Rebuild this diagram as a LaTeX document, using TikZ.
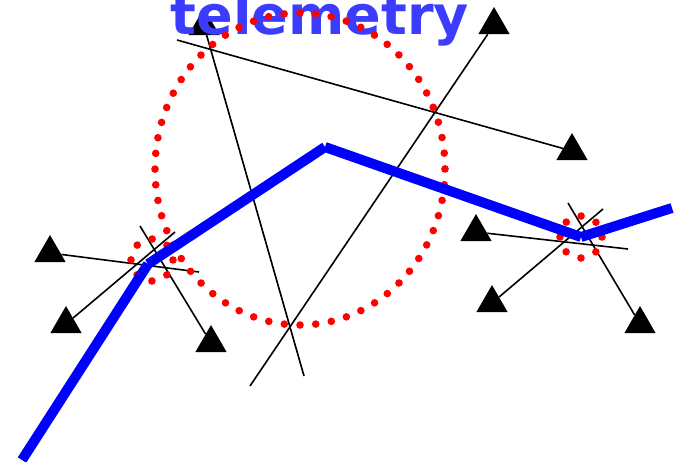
\documentclass[tikz,border=0pt]{standalone}
\usepackage{fontspec}
\newfontfamily\titlefont{DejaVu Sans}
\usepackage{xcolor}
\usetikzlibrary{shapes.geometric}
\definecolor{tblue}{RGB}{0,0,255}
\definecolor{tlabel}{RGB}{60,60,255}
\definecolor{tred}{RGB}{255,0,0}
\tikzset{
  ant/.style={regular polygon,regular polygon sides=3,fill=black,inner sep=0pt,minimum size=36pt},
  bearing/.style={black,line width=1.6pt},
  track/.style={tblue,line width=10pt},
  fixdots/.style={tred,line width=7.6pt,line cap=round,dash pattern=on 0pt off 16.49pt},
  areadots/.style={tred,line width=7.6pt,line cap=round,dash pattern=on 0pt off 15.765pt},
  title/.style={tlabel,anchor=base,inner sep=0pt,font=\titlefont\bfseries\fontsize{54}{54}\selectfont}
}

\begin{document}
\begin{tikzpicture}[x=1pt,y=-1pt]
  \useasboundingbox (0,0) rectangle (677,461);
  % antennas
  \node[ant] (a1) at (204,26) {};
  \node[ant] (a2) at (494,25) {};
  \node[ant] (a3) at (572,151) {};
  \node[ant] (a4) at (50,253) {};
  \node[ant] (a5) at (66,324) {};
  \node[ant] (a6) at (211,343) {};
  \node[ant] (a7) at (476,232) {};
  \node[ant] (a8) at (492,303) {};
  \node[ant] (a9) at (640,324) {};
  % free ends of the bearings
  \coordinate (e1) at (304,376);
  \coordinate (e2) at (250,386);
  \coordinate (e3) at (177,40);
  \coordinate (e4) at (199,272);
  \coordinate (e5) at (175,232);
  \coordinate (e6) at (140,226);
  \coordinate (e7) at (628,249);
  \coordinate (e8) at (603,209);
  \coordinate (e9) at (568,203);
  \foreach \i in {1,...,9}
    \draw[bearing] (a\i) -- (e\i);
  \node[title] (lbl) at (320,34) {telemetry};
  % fixes and error area
  \coordinate (fixL) at (152,260);
  \coordinate (fixR) at (581,237);
  \draw[areadots] (300,169) ellipse [x radius=145,y radius=156];
  \draw[fixdots] (fixL) circle [radius=21];
  \draw[fixdots] (fixR) circle [radius=21];
  % track
  \coordinate (p0) at (22,460);
  \coordinate (p1) at (148,264);
  \coordinate (p2) at (325,147);
  \coordinate (p3) at (581,237);
  \coordinate (p4) at (672,208);
  \draw[track] (p0) -- (p1) (p1) -- (p2) (p2) -- (p3) (p3) -- (p4);
\end{tikzpicture}
\end{document}
